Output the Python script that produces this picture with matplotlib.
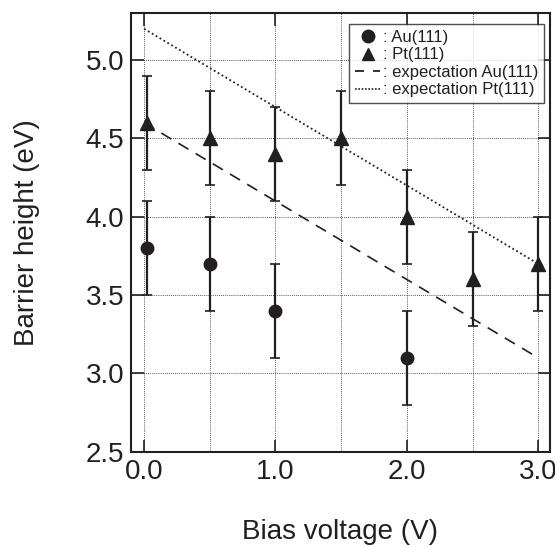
import matplotlib
matplotlib.use("Agg")
import matplotlib.pyplot as plt
import numpy as np
from matplotlib.lines import Line2D

plt.rcParams['font.family'] = ['Liberation Sans', 'DejaVu Sans']

INK = '#231f20'

# Measured barrier heights
au_bias = [0.02, 0.5, 1.0, 2.0]
au_height = [3.8, 3.7, 3.4, 3.1]
au_err = [0.3, 0.3, 0.3, 0.3]

pt_bias = [0.02, 0.5, 1.0, 1.5, 2.0, 2.5, 3.0]
pt_height = [4.6, 4.5, 4.4, 4.5, 4.0, 3.6, 3.7]
pt_err = [0.3, 0.3, 0.3, 0.3, 0.3, 0.3, 0.3]

# Expected trends (end points)
exp_bias = [0.0, 3.0]
exp_au = [4.6, 3.1]
exp_pt = [5.2, 3.7]

xticks = [0.0, 1.0, 2.0, 3.0]
xtick_labels = ['0.0', '1.0', '2.0', '3.0']
yticks = [2.5, 3.0, 3.5, 4.0, 4.5, 5.0]
ytick_labels = ['2.5', '3.0', '3.5', '4.0', '4.5', '5.0']

fig = plt.figure(figsize=(5.55, 5.47), dpi=100)
ax = fig.add_axes([0.236, 0.174, 0.755, 0.802])

ax.set_xlim(-0.1, 3.09)
ax.set_ylim(2.5, 5.3)

# dotted grid
for gx in np.arange(0.0, 3.01, 0.5):
    ax.axvline(gx, color=INK, lw=0.6, ls=(0, (1, 1.5)), zorder=0)
for gy in yticks[1:]:
    ax.axhline(gy, color=INK, lw=0.6, ls=(0, (1, 1.5)), zorder=0)

ax.plot(exp_bias, exp_au, color=INK, lw=1.2, ls=(0, (7, 5)), zorder=2)
ax.plot(exp_bias, exp_pt, color=INK, lw=1.3, ls=(0, (1, 1.5)), zorder=2)

ax.errorbar(au_bias, au_height, yerr=au_err, fmt='o', color=INK, ms=9,
            capsize=3.8, elinewidth=1.6, capthick=1.2, zorder=3)
ax.errorbar(pt_bias, pt_height, yerr=pt_err, fmt='^', color=INK, ms=10,
            capsize=3.8, elinewidth=1.6, capthick=1.2, zorder=3)

ax.set_xticks(xticks)
ax.set_xticklabels(xtick_labels)
ax.set_yticks(yticks)
ax.set_yticklabels(ytick_labels)
ax.tick_params(axis='both', direction='in', length=9, width=1.2, colors=INK,
               labelsize=20, top=True, right=True, pad=5)
for s in ax.spines.values():
    s.set_linewidth(1.5)
    s.set_color(INK)

ax.set_xlabel('Bias voltage (V)', fontsize=20, color=INK, labelpad=25)
ax.set_ylabel('Barrier height (eV)', fontsize=20, color=INK, labelpad=33)

handles = [
    Line2D([], [], color=INK, marker='o', ls='none', ms=9),
    Line2D([], [], color=INK, marker='^', ls='none', ms=9),
    Line2D([], [], color=INK, lw=1.3, ls=(0, (5, 5))),
    Line2D([], [], color=INK, lw=1.2, ls=(0, (1, 1))),
]
labels = [': Au(111)', ': Pt(111)', ': expectation Au(111)', ': expectation Pt(111)']
leg = ax.legend(handles, labels, loc='upper right', bbox_to_anchor=(0.985, 0.975),
                fontsize=12, frameon=True, fancybox=False, handlelength=1.5,
                handletextpad=0.15, borderpad=0.35, labelspacing=0.15,
                borderaxespad=0.0)
leg.get_frame().set_edgecolor(INK)
leg.get_frame().set_linewidth(1.0)
for t in leg.get_texts():
    t.set_color(INK)

fig.savefig('out.png', dpi=100)
